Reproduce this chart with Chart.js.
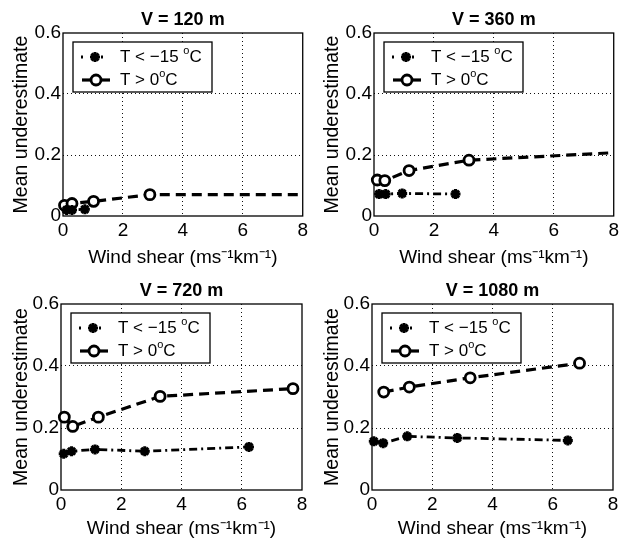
<!DOCTYPE html>
<html>
<head>
<meta charset="utf-8">
<script src="https://cdn.jsdelivr.net/npm/chart.js@4/dist/chart.umd.min.js"></script>
<style>
  body { margin: 0; background: #fff; }
  #wrap { position: relative; width: 622px; height: 542px; }
  canvas { position: absolute; }
</style>
</head>
<body>
<div id="wrap">
  <canvas id="p120" width="311" height="271" style="left:0;top:0"></canvas>
  <canvas id="p360" width="311" height="271" style="left:311px;top:0"></canvas>
  <canvas id="p720" width="311" height="271" style="left:0;top:271px"></canvas>
  <canvas id="p1080" width="311" height="271" style="left:311px;top:271px"></canvas>
</div>
<script>
// wind shear (x) and mean underestimate (y), cold = T < -15 C, warm = T > 0 C
let shear120Cold = [0.12, 0.3, 0.73];
let under120Cold = [0.02, 0.02, 0.022];
let shear120Warm = [0.05, 0.3, 1.02, 2.9, 8.5];
let under120Warm = [0.035, 0.041, 0.048, 0.07, 0.07];

let shear360Cold = [0.17, 0.39, 0.94, 2.72];
let under360Cold = [0.072, 0.072, 0.074, 0.072];
let shear360Warm = [0.11, 0.36, 1.17, 3.17, 8.5];
let under360Warm = [0.118, 0.116, 0.149, 0.183, 0.21];

let shear720Cold = [0.09, 0.35, 1.13, 2.78, 6.24];
let under720Cold = [0.117, 0.125, 0.131, 0.125, 0.139];
let shear720Warm = [0.11, 0.39, 1.24, 3.29, 7.7];
let under720Warm = [0.235, 0.205, 0.235, 0.302, 0.327];

let shear1080Cold = [0.06, 0.37, 1.17, 2.83, 6.5];
let under1080Cold = [0.157, 0.151, 0.173, 0.168, 0.16];
let shear1080Warm = [0.39, 1.24, 3.26, 6.89];
let under1080Warm = [0.316, 0.332, 0.362, 0.409];

let xTicks = [0, 2, 4, 6, 8];
let yTicks = [0, 0.2, 0.4, 0.6];

const FONT = "'Liberation Sans', Arial, Helvetica, sans-serif";
Chart.defaults.font.family = FONT;
Chart.defaults.color = "#000";

function pts(xs, ys) {
  return xs.map((x, i) => ({ x: x, y: ys[i] }));
}

// axes box drawn like matlab (all four sides)
const axesBox = {
  id: "axesBox",
  beforeDatasetsDraw(chart) {
    const a = chart.chartArea;
    const ctx = chart.ctx;
    ctx.save();
    ctx.strokeStyle = "#000";
    ctx.lineWidth = 1.3;
    ctx.strokeRect(a.left, a.top, a.right - a.left, a.bottom - a.top);
    ctx.restore();
  },
};

function drawStar(ctx, x, y, r) {
  ctx.beginPath();
  for (let k = 0; k < 4; k++) {
    const ang = (k * Math.PI) / 4;
    ctx.moveTo(x - r * Math.cos(ang), y - r * Math.sin(ang));
    ctx.lineTo(x + r * Math.cos(ang), y + r * Math.sin(ang));
  }
  ctx.stroke();
}

// legend box inside the axes, upper left
const legendBox = {
  id: "legendBox",
  afterDatasetsDraw(chart) {
    const a = chart.chartArea;
    const ctx = chart.ctx;
    const x = a.left + 10, y = a.top + 9, w = 139, h = 50;
    ctx.save();
    ctx.fillStyle = "#fff";
    ctx.fillRect(x, y, w, h);
    ctx.strokeStyle = "#000";
    ctx.lineWidth = 1.3;
    ctx.strokeRect(x, y, w, h);

    // row 1: cold
    let ly = y + 15;
    ctx.lineWidth = 2.8;
    ctx.setLineDash([2, 8]);
    ctx.beginPath();
    ctx.moveTo(x + 8, ly);
    ctx.lineTo(x + 38, ly);
    ctx.stroke();
    ctx.setLineDash([]);
    ctx.lineWidth = 3;
    drawStar(ctx, x + 22, ly, 5);

    // row 2: warm
    ly = y + 38;
    ctx.lineWidth = 3.2;
    ctx.beginPath();
    ctx.moveTo(x + 9, ly);
    ctx.lineTo(x + 37, ly);
    ctx.stroke();
    ctx.beginPath();
    ctx.arc(x + 23, ly, 5, 0, Math.PI * 2);
    ctx.fillStyle = "#fff";
    ctx.fill();
    ctx.lineWidth = 2.8;
    ctx.stroke();

    ctx.fillStyle = "#000";
    ctx.textBaseline = "middle";
    const parts = [
      ["T < \u221215 ", "o", "C"],
      ["T > 0", "o", "C"],
    ];
    parts.forEach((p, i) => {
      let tx = x + 47;
      const ty = y + 15 + i * 23;
      ctx.font = "17px " + FONT;
      ctx.fillText(p[0], tx, ty);
      tx += ctx.measureText(p[0]).width;
      ctx.font = "11px " + FONT;
      ctx.fillText(p[1], tx, ty - 6);
      tx += ctx.measureText(p[1]).width;
      ctx.font = "17px " + FONT;
      ctx.fillText(p[2], tx, ty);
    });
    ctx.restore();
  },
};

function makePanel(id, title, coldX, coldY, warmX, warmY, geo) {
  const warmRadius = warmX.map((x) => (x > 8 ? 0 : 5));
  new Chart(document.getElementById(id), {
    type: "line",
    data: {
      datasets: [
        {
          label: "T < -15 C",
          data: pts(coldX, coldY),
          borderColor: "#000",
          backgroundColor: "#000",
          borderWidth: 2.8,
          borderDash: [8, 4, 2, 4],
          pointStyle: "star",
          pointRadius: 5,
          pointBorderWidth: 3,
          tension: 0,
          clip: { left: 10, right: 0, top: 10, bottom: 10 },
        },
        {
          label: "T > 0 C",
          data: pts(warmX, warmY),
          borderColor: "#000",
          backgroundColor: "#fff",
          borderWidth: 3.2,
          borderDash: [10, 6],
          pointStyle: "circle",
          pointRadius: warmRadius,
          pointBorderWidth: 2.8,
          tension: 0,
          clip: { left: 10, right: 0, top: 10, bottom: 10 },
        },
      ],
    },
    options: {
      responsive: false,
      animation: false,
      events: [],
      layout: {
        padding: { left: 0, right: geo.right, top: 0, bottom: 0 },
      },
      plugins: {
        legend: { display: false },
        tooltip: { enabled: false },
        title: {
          display: true,
          text: title,
          fullSize: false,
          color: "#000",
          font: { size: 18, weight: "bold", lineHeight: 1.2 },
          padding: { top: 9, bottom: 2.4 },
        },
      },
      scales: {
        x: {
          type: "linear",
          min: 0,
          max: 8,
          afterBuildTicks: (s) => {
            s.ticks = xTicks.map((v) => ({ value: v }));
          },
          afterFit: (s) => {
            s.height = geo.xHeight;
          },
          ticks: {
            font: { size: 19 },
            padding: 3,
            maxRotation: 0,
          },
          grid: {
            drawTicks: false,
            color: (c) =>
              c.tick && (c.tick.value === 0 || c.tick.value === 8)
                ? "rgba(0,0,0,0)"
                : "#111",
            lineWidth: 1,
          },
          border: { display: false, dash: [1, 3] },
          title: {
            display: true,
            text: "Wind shear (ms\u207B\u00B9km\u207B\u00B9)",
            font: { size: 19, lineHeight: 1.2 },
            padding: { top: 0, bottom: 2 },
          },
        },
        y: {
          min: 0,
          max: 0.6,
          afterBuildTicks: (s) => {
            s.ticks = yTicks.map((v) => ({ value: v }));
          },
          afterFit: (s) => {
            s.width = geo.yWidth;
          },
          ticks: {
            font: { size: 19 },
            padding: 2,
            callback: (v) => String(v),
          },
          grid: {
            drawTicks: false,
            color: (c) =>
              c.tick && (c.tick.value === 0 || c.tick.value === 0.6)
                ? "rgba(0,0,0,0)"
                : "#111",
            lineWidth: 1,
          },
          border: { display: false, dash: [1, 3] },
          title: {
            display: true,
            text: "Mean underestimate",
            font: { size: 19.5, lineHeight: 1.2 },
            padding: { top: 10, bottom: 0 },
          },
        },
      },
    },
    plugins: [axesBox, legendBox],
  });
}

const topRow = { right: 8, xHeight: 55, yWidth: 63 };
const bottomRow = { right: 9, xHeight: 52, yWidth: 61 };

makePanel("p120", "V = 120 m", shear120Cold, under120Cold, shear120Warm, under120Warm, topRow);
makePanel("p360", "V = 360 m", shear360Cold, under360Cold, shear360Warm, under360Warm, topRow);
makePanel("p720", "V = 720 m", shear720Cold, under720Cold, shear720Warm, under720Warm, bottomRow);
makePanel("p1080", "V = 1080 m", shear1080Cold, under1080Cold, shear1080Warm, under1080Warm, bottomRow);
</script>
</body>
</html>
